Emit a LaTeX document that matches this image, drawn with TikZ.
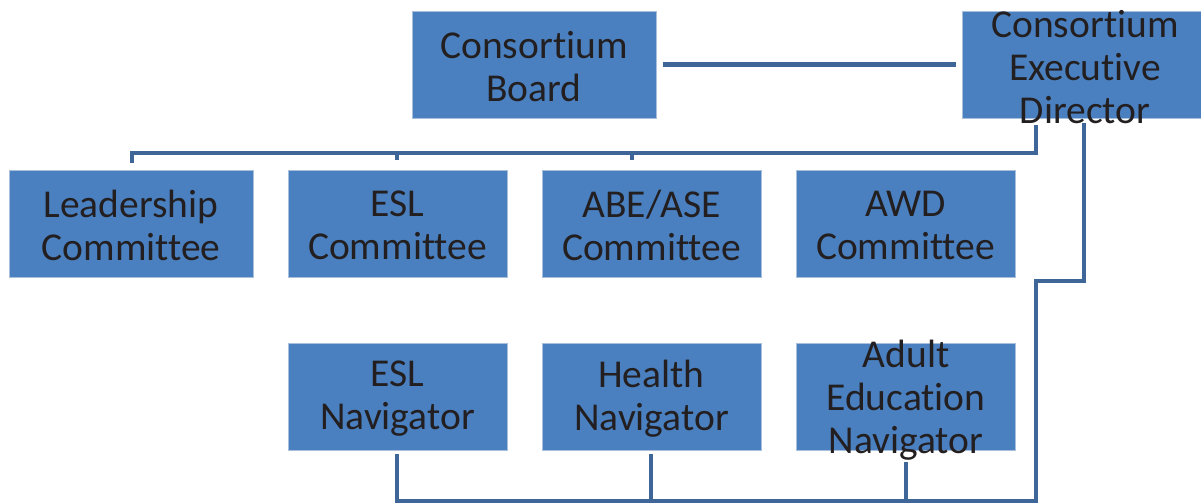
\documentclass[tikz,border=0pt]{standalone}
\usepackage{fontspec}
\setmainfont{Carlito}[Ligatures=NoCommon]
\definecolor{boxfill}{HTML}{4A80BF}
\definecolor{boxedge}{HTML}{A9C0DC}
\definecolor{linecol}{HTML}{3E6698}
\definecolor{txt}{HTML}{231F20}
\tikzset{
  orgbox/.style={draw=boxedge, line width=0.5pt, fill=boxfill, inner sep=0pt, minimum height=53.5pt},
  wide/.style={minimum width=122pt},
  narrow/.style={minimum width=109.5pt},
  lbl/.style={text=txt, align=center, inner sep=0pt, yshift=-1pt, font=\fontsize{19.75}{21.5}\selectfont},
  thickline/.style={draw=linecol, line width=2.3pt},
  busline/.style={draw=linecol, line width=2pt},
  thinline/.style={draw=linecol, line width=1.6pt}
}
\begin{document}
\begin{tikzpicture}[x=0.5pt, y=-0.5pt]
\useasboundingbox (0,0) rectangle (1201,503);
% boxes
\node[orgbox, wide] (board) at (534,64.5) {};
\node[orgbox, minimum width=119.5pt] (exec) at (1081.5,64.5) {};
\node[orgbox, wide] (lead) at (131,223.5) {};
\node[orgbox, narrow] (eslc) at (397.5,223.5) {};
\node[orgbox, narrow] (abe) at (651.5,223.5) {};
\node[orgbox, narrow] (awd) at (905.5,223.5) {};
\node[orgbox, narrow] (eslnav) at (397.5,396.5) {};
\node[orgbox, narrow] (health) at (651.5,396.5) {};
\node[orgbox, narrow] (adult) at (905.5,396.5) {};
% labels
\node[lbl] (tboard) at (board) {Consortium\\Board};
\node[lbl] (texec) at (1085,65) {Consortium\\Executive\\Director};
\node[lbl] (tlead) at (lead) {Leadership\\Committee};
\node[lbl] (teslc) at (eslc) {ESL\\Committee};
\node[lbl] (tabe) at (abe) {ABE/ASE\\Committee};
\node[lbl] (tawd) at (awd) {AWD\\Committee};
\node[lbl] (teslnav) at (eslnav) {ESL\\Navigator};
\node[lbl] (thealth) at (health) {Health\\Navigator};
\node[lbl] (tadult) at (906,398) {Adult\\Education\\Navigator};
% board -- exec
\draw[thickline, shorten <=3pt, shorten >=3pt] (board.east) -- (exec.west);
% top bus
\coordinate (e1) at (1036,125);
\coordinate (e2) at (1036,153);
\coordinate (l1) at (132,153);
\coordinate (l2) at (132,163);
\coordinate (s1a) at (397,153);
\coordinate (s1b) at (397,160);
\coordinate (s2a) at (632,153);
\coordinate (s2b) at (632,160);
\draw[busline, line join=miter] (e1) -- (e2) -- (l1) -- (l2);
\draw[busline] (s1a) -- (s1b);
\draw[busline] (s2a) -- (s2b);
% right line to navigators
\coordinate (r1) at (1084,123);
\coordinate (r2) at (1084,281);
\coordinate (r3) at (1036,281);
\coordinate (r4) at (1036,501);
\coordinate (b1) at (397,501);
\coordinate (n1) at (397,454);
\coordinate (h1) at (651,454);
\coordinate (h2) at (651,501);
\coordinate (a1) at (906,462);
\coordinate (a2) at (906,501);
\draw[thinline, line join=miter] (r1) -- (r2) -- (r3) -- (r4) -- (b1) -- (n1);
\draw[thinline] (h1) -- (h2);
\draw[thinline] (a1) -- (a2);
\end{tikzpicture}
\end{document}
